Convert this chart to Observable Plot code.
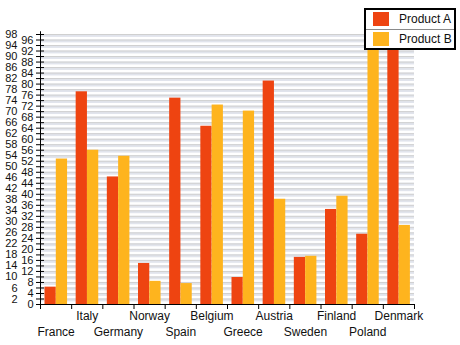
<!DOCTYPE html>
<html><head><meta charset="utf-8">
<script src="https://cdn.jsdelivr.net/npm/d3@7"></script>
<script src="https://cdn.jsdelivr.net/npm/@observablehq/plot@0.6"></script>
<style>
html,body{margin:0;padding:0;background:#fff;}
#chart{position:relative;width:460px;height:345px;font-family:"Liberation Sans",Arial,sans-serif;}
#chart svg{display:block;}
.legend{position:absolute;left:364px;top:8px;width:92px;height:42px;box-sizing:border-box;border:2px solid #000;background:#fff;}
.legend .row{position:absolute;left:0;width:100%;height:20px;}
.legend .sw{position:absolute;left:7px;top:2px;width:16px;height:14px;}
.legend .lb{position:absolute;left:33px;top:2px;font-size:12px;line-height:14px;color:#111;white-space:nowrap;}
.legend .sep{position:absolute;left:0;top:19px;width:100%;height:1px;background:#8a8a8a;}
</style></head><body><div id="chart"></div>
<script>
const countries = ["France","Italy","Germany","Norway","Spain","Belgium","Greece","Austria","Sweden","Finland","Poland","Denmark"];
const productA = [6.3,77.2,46.3,14.9,74.9,64.7,9.8,81.1,17.1,34.5,25.5,97];
const productB = [52.8,56.0,53.8,8.4,7.6,72.4,70.2,38.2,17.5,39.3,96,28.7];
const seriesNames = ["Product A","Product B"];
const seriesColors = ["#ee4411","#feb41e"];
const yTicks = d3.range(0, 99, 2);

const W = 460, H = 345, mL = 40, mR = 46, mT = 34, mB = 41;
const yMax = 98;
const bw = (W - mL - mR) / countries.length;   // px per category
const ky = (H - mT - mB) / yMax;                // px per unit
const rows = countries.map((c, i) => ({i, c, a: productA[i], b: productB[i]}));
const txt = "#111";

const plot = Plot.plot({
  width: W, height: H,
  marginLeft: mL, marginRight: mR, marginTop: mT, marginBottom: mB,
  style: {fontFamily: '"Liberation Sans", Arial, sans-serif', fontSize: "12px", background: "#fff"},
  x: {domain: [0, countries.length], axis: null},
  y: {domain: [0, yMax], axis: null},
  marks: [
    // striped grid
    Plot.rectY(yTicks.slice(1), {x1: 0, x2: countries.length, y1: d => d - 1.05, y2: d => d, fill: "#e1e4ec"}),
    Plot.ruleY(yTicks.slice(1), {x1: 0, x2: countries.length, stroke: "#d0d0d0", strokeWidth: 1}),
    // bars
    Plot.rectY(rows, {x1: d => d.i, x2: d => d.i + 1, y: "a", insetLeft: 4.5, insetRight: 15.4, fill: seriesColors[0]}),
    Plot.rectY(rows, {x1: d => d.i, x2: d => d.i + 1, y: "b", insetLeft: 15.8, insetRight: 4.1, fill: seriesColors[1]}),
    // axes lines
    Plot.ruleX([0], {y1: 0, y2: yMax + 1, stroke: "#000"}),
    Plot.ruleY([0], {x1: 0, x2: countries.length, stroke: "#000"}),
    // y tick marks crossing axis
    Plot.ruleY(yTicks, {x1: -4 / bw, x2: 4 / bw, stroke: "#000"}),
    // x tick marks at category boundaries
    Plot.ruleX(d3.range(countries.length + 1), {y1: 0, y2: -5 / ky, stroke: "#000"}),
    // y labels, staggered
    Plot.text(yTicks.filter(v => v % 4 === 0), {x: 0, y: d => d, text: d => String(d), textAnchor: "end", dx: -7, fontSize: 11, fill: txt}),
    Plot.text(yTicks.filter(v => v % 4 === 2), {x: 0, y: d => d, text: d => String(d), textAnchor: "end", dx: -23, fontSize: 11, fill: txt}),
    // x labels, staggered
    Plot.text(rows.filter(d => d.i % 2 === 1), {x: d => d.i + 0.5, y: 0, text: "c", dy: 12, fontSize: 12, fill: txt}),
    Plot.text(rows.filter(d => d.i % 2 === 0), {x: d => d.i + 0.5, y: 0, text: "c", dy: 28, fontSize: 12, fill: txt})
  ]
});
const chart = document.getElementById("chart");
chart.appendChild(plot);

// legend overlay
const lg = document.createElement("div");
lg.className = "legend";
seriesNames.forEach((name, k) => {
  const r = document.createElement("div");
  r.className = "row";
  r.style.top = (k * 20) + "px";
  const sw = document.createElement("div");
  sw.className = "sw"; sw.style.background = seriesColors[k];
  const lb = document.createElement("div");
  lb.className = "lb"; lb.textContent = name;
  r.appendChild(sw); r.appendChild(lb);
  lg.appendChild(r);
});
const sep = document.createElement("div");
sep.className = "sep";
lg.appendChild(sep);
chart.appendChild(lg);
</script>
</body></html>
